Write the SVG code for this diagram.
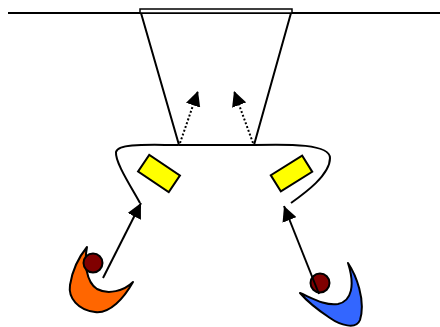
<svg xmlns="http://www.w3.org/2000/svg" width="440" height="327" viewBox="0 0 440 327">
<style>
.ln{fill:none;stroke:#000;stroke-width:2}
.sh{stroke:#000;stroke-width:2;stroke-linejoin:round}
.dot{fill:#800000;stroke:#000;stroke-width:2}
.rect{fill:#FFFF00;stroke:#000;stroke-width:2}
.dotted{fill:none;stroke:#000;stroke-width:2;stroke-dasharray:2 2}
</style>
<defs>
<marker id="ah" viewBox="0 0 15 15" refX="15" refY="7.5" markerWidth="15" markerHeight="15" markerUnits="userSpaceOnUse" orient="auto">
<path d="M0,0 L15,7.5 L0,15 Z" fill="#000"/>
</marker>
</defs>
<rect width="440" height="327" fill="#fff"/>
<g id="wall">
<line class="ln" x1="8" y1="13" x2="440" y2="13"/>
</g>
<g id="station">
<rect x="140" y="9" width="152" height="4" fill="#fff" stroke="#000" stroke-width="1.5"/>
<path class="ln" d="M141,13 L179,145 L254,145 L291,13"/>
</g>
<g id="bracket-left">
<path class="ln" d="M178,145 C150,145 118,143 116,152 C115,162 130,185 140,203"/>
</g>
<g id="bracket-right">
<path class="ln" d="M254,145 C290,144 330,144 330,158 C330,175 305,193 291,203"/>
</g>
<g id="box-left">
<rect class="rect" x="-18.5" y="-10" width="37" height="20" transform="translate(159,173.5) rotate(34)"/>
</g>
<g id="box-right">
<rect class="rect" x="-18.5" y="-9.5" width="37" height="19" transform="translate(291.5,173.5) rotate(-32)"/>
</g>
<g id="person-left">
<path class="sh" fill="#FF6600" d="M87,247 C84,262 86,282 97,289 C108,295 124,291 133,282 C124,298 110,314 95,312 C78,310 68,298 70,285 C72,272 78,258 87,247 Z"/>
<circle class="dot" cx="93" cy="263" r="9.5"/>
</g>
<g id="person-right">
<path class="sh" fill="#3366FF" d="M348,263 C356,275 366,300 360,320 C356,330 340,325 330,318 C318,310 306,300 300,293 C312,298 325,306 338,304 C352,301 355,285 348,263 Z"/>
<circle class="dot" cx="320" cy="283" r="9.5"/>
</g>
<g id="connectors">
<line class="ln" x1="103" y1="278" x2="141" y2="203" marker-end="url(#ah)"/>
<line class="ln" x1="319" y1="294" x2="284" y2="206" marker-end="url(#ah)"/>
<line class="dotted" x1="180" y1="143" x2="198" y2="91" marker-end="url(#ah)"/>
<line class="dotted" x1="253" y1="143" x2="234" y2="91" marker-end="url(#ah)"/>
</g>
</svg>
